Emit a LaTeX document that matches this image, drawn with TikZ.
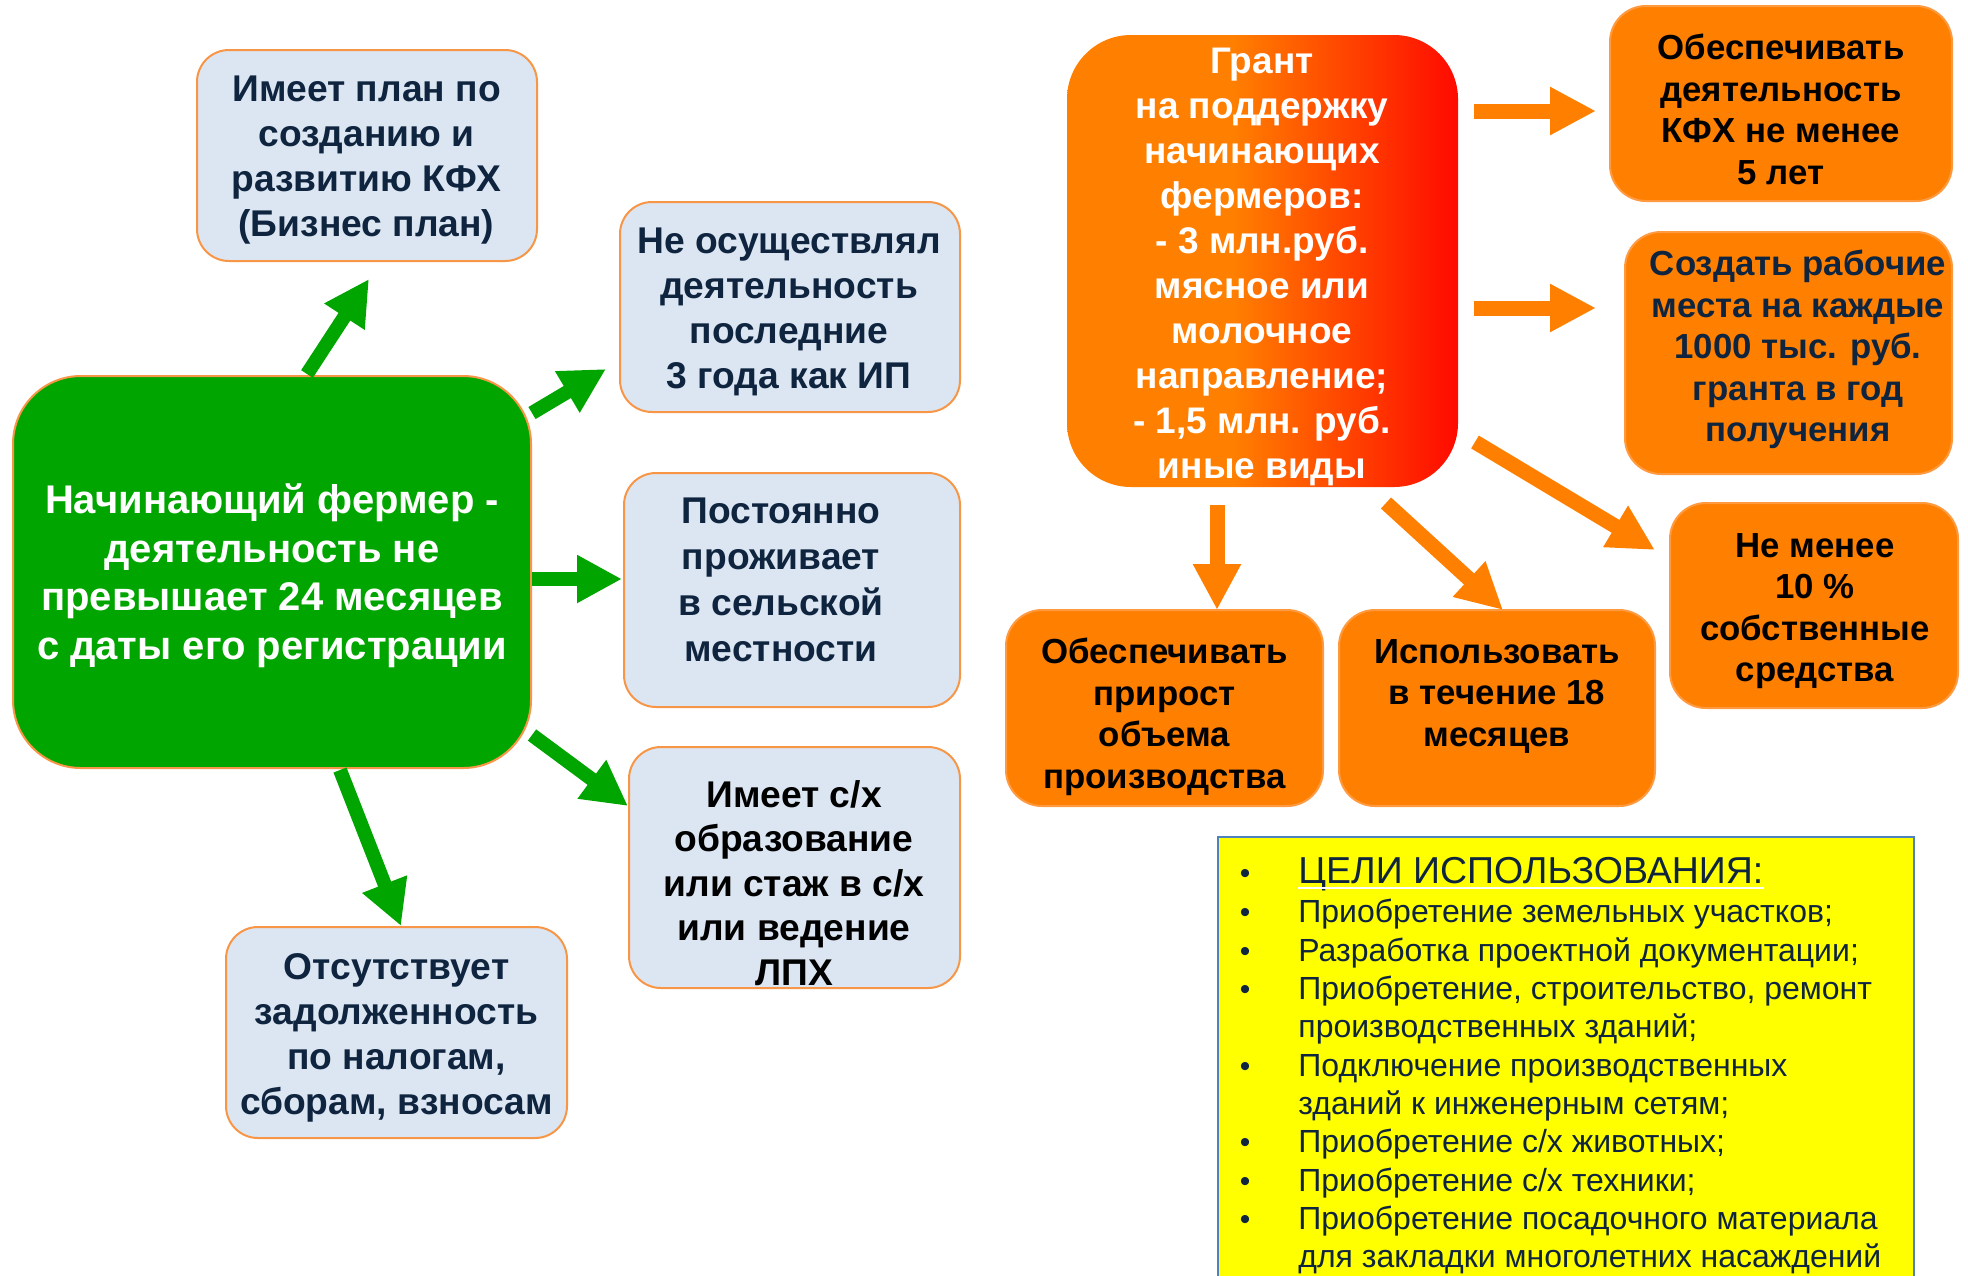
\documentclass[tikz,border=0pt]{standalone}
\usepackage{fontspec}
\setmainfont{Liberation Sans}
\usetikzlibrary{arrows.meta}
\definecolor{lbfill}{HTML}{DCE6F2}
\definecolor{lborder}{HTML}{F79646}
\definecolor{navy}{HTML}{0F243E}
\definecolor{grn}{HTML}{00A500}
\definecolor{orng}{HTML}{FF8000}
\definecolor{oborder}{HTML}{FF9A40}
\definecolor{gred}{HTML}{FF0A00}
\definecolor{ylw}{HTML}{FFFF00}
\definecolor{ylwborder}{HTML}{4F81BD}
\pgfdeclarehorizontalshading{grantsh}{100bp}{color(0bp)=(orng); color(25bp)=(orng); color(46bp)=(orng); color(75bp)=(gred); color(100bp)=(gred)}
\newcommand{\myfs}[2]{\fontsize{#1}{#2}\selectfont}
\newcommand{\blt}{\llap{{\myfs{15pt}{15pt}•}\hspace{24pt}}}
\begin{document}
\begin{tikzpicture}[x=0.5pt,y=-0.5pt,
  lbox/.style={draw=lborder, line width=1pt, fill=lbfill, rounded corners=16pt, inner sep=0pt},
  gbox/.style={draw=lborder, line width=1pt, fill=grn, rounded corners=34pt, inner sep=0pt},
  obox/.style={draw=oborder, line width=1pt, fill=orng, rounded corners=18pt, inner sep=0pt},
  btxt/.style={align=center, font=\bfseries\myfs{18.6pt}{22.5pt}, text=navy, inner sep=0pt},
  otxt/.style={align=center, font=\bfseries\myfs{17.4pt}{20.75pt}, text=black, inner sep=0pt},
  ytxt/.style={anchor=base west, inner sep=0pt, text=navy, font=\myfs{16pt}{16pt}},
  garrow/.style={draw=grn, line width=7pt, -{Triangle[length=22.5pt,width=22.5pt]}},
  oarrow/.style={draw=orng, line width=7.5pt, -{Triangle[length=23pt,width=22.5pt]}}]
\useasboundingbox (0,0) rectangle (1968,1275);
\clip (0,0) rectangle (1968,1275);

% ---------- left part ----------
\node[gbox, minimum width=259pt, minimum height=196pt] (green) at (272,572) {};
\node[align=center, font=\bfseries\myfs{20pt}{24.25pt}, text=white, inner sep=0pt] (tgreen) at (272,576)
  {Начинающий фермер -\\деятельность не\\превышает 24 месяцев\\с даты его регистрации};

\node[lbox, minimum width=170pt, minimum height=105.5pt] (boxA) at (367,155.5) {};
\node[btxt] (tA) at (366.5,160.5) {Имеет план по\\созданию и\\развитию КФХ\\(Бизнес план)};

\node[lbox, minimum width=170pt, minimum height=105pt] (boxB) at (790,307) {};
\node[btxt] (tB) at (789,312) {Не осуществлял\\деятельность\\последние\\3 года как ИП};

\node[lbox, minimum width=168pt, minimum height=117pt] (boxC) at (792,590) {};
\node[btxt, font=\bfseries\myfs{18.6pt}{23pt}] (tC) at (781,580) {Постоянно\\проживает\\в сельской\\местности};

\node[lbox, minimum width=165.5pt, minimum height=120.5pt] (boxD) at (794.5,867.5) {};
\node[btxt, text=black, font=\bfseries\myfs{18.6pt}{22.3pt}] (tD) at (794,883) {Имеет с/х\\образование\\или стаж в с/х\\или ведение\\ЛПХ};

\node[lbox, minimum width=170.5pt, minimum height=105.5pt] (boxE) at (396.5,1032.5) {};
\node[btxt] (tE) at (396.5,1038) {Отсутствует\\задолженность\\по налогам,\\сборам, взносам};

% green arrows
\coordinate (gA1) at (307,374); \coordinate (gA2) at (369,279);
\coordinate (gB1) at (532,413); \coordinate (gB2) at (606,369);
\coordinate (gC1) at (532,579); \coordinate (gC2) at (622,579);
\coordinate (gD1) at (532,735); \coordinate (gD2) at (628,806);
\coordinate (gE1) at (340,770); \coordinate (gE2) at (401,926);
\draw[garrow] (gA1) -- (gA2);
\draw[garrow] (gB1) -- (gB2);
\draw[garrow] (gC1) -- (gC2);
\draw[garrow] (gD1) -- (gD2);
\draw[garrow] (gE1) -- (gE2);

% ---------- right part ----------
\node[shading=grantsh, rounded corners=32pt, minimum width=195.5pt, minimum height=226pt, inner sep=0pt] (grant) at (1262.5,261) {};
\node[align=center, font=\bfseries\myfs{18.5pt}{22.5pt}, text=white, inner sep=0pt] (tgrant) at (1262,267)
  {Грант\\на поддержку\\начинающих\\фермеров:\\- 3 млн.руб.\\мясное или\\молочное\\направление;\\- 1,5 млн. руб.\\иные виды};

\node[obox, minimum width=171pt, minimum height=97.5pt] (o1) at (1781,103.5) {};
\node[otxt] (t1) at (1781,109.5) {Обеспечивать\\деятельность\\КФХ не менее\\5 лет};

\node[obox, minimum width=163.5pt, minimum height=121pt] (o2) at (1788.5,353) {};
\node[otxt, text=navy] (t2) at (1798,349.6) {Создать рабочие\\места на каждые\\1000 тыс. руб.\\гранта в год\\получения};

\node[obox, minimum width=144pt, minimum height=102.5pt] (o3) at (1814,605.5) {};
\node[otxt] (t3) at (1815,611) {Не менее\\10 \%\\собственные\\средства};

\node[obox, minimum width=158.5pt, minimum height=98pt] (o4) at (1164.5,708) {};
\node[otxt] (t4) at (1164.5,717) {Обеспечивать\\прирост\\объема\\производства};

\node[obox, minimum width=158pt, minimum height=98pt] (o5) at (1497,708) {};
\node[otxt] (t5) at (1497,696) {Использовать\\в течение 18\\месяцев};

% orange arrows
\coordinate (oA1) at (1474,111); \coordinate (oA2) at (1596,111);
\coordinate (oB1) at (1474,308); \coordinate (oB2) at (1596,308);
\coordinate (oC1) at (1475,442); \coordinate (oC2) at (1655,550);
\coordinate (oD1) at (1217,505); \coordinate (oD2) at (1217,610);
\coordinate (oE1) at (1386,503); \coordinate (oE2) at (1503,610);
\draw[oarrow] (oA1) -- (oA2);
\draw[oarrow] (oB1) -- (oB2);
\draw[oarrow] (oC1) -- (oC2);
\draw[oarrow] (oD1) -- (oD2);
\draw[oarrow] (oE1) -- (oE2);

% ---------- yellow box ----------
\node[draw=ylwborder, line width=1.2pt, fill=ylw, minimum width=348pt, minimum height=230pt, inner sep=0pt, anchor=north west] (goals) at (1217,836) {};
\node[ytxt, font=\myfs{18.75pt}{18.75pt}] (g0) at (1298,883) {\blt ЦЕЛИ ИСПОЛЬЗОВАНИЯ:};
\draw[white, line width=1.2pt] ([yshift=-2.5pt]g0.base west) -- ([yshift=-2.5pt]g0.base east);
\node[ytxt] (g1) at (1298,922.7) {\blt Приобретение земельных участков;};
\node[ytxt] (g2) at (1298,961) {\blt Разработка проектной документации;};
\node[ytxt] (g3) at (1298,999.4) {\blt Приобретение, строительство, ремонт};
\node[ytxt] (g4) at (1298,1037.8) {производственных зданий;};
\node[ytxt] (g5) at (1298,1076.1) {\blt Подключение производственных};
\node[ytxt] (g6) at (1298,1114.5) {зданий к инженерным сетям;};
\node[ytxt] (g7) at (1298,1152.8) {\blt Приобретение с/х животных;};
\node[ytxt] (g8) at (1298,1191.2) {\blt Приобретение с/х техники;};
\node[ytxt] (g9) at (1298,1229.5) {\blt Приобретение посадочного материала};
\node[ytxt] (g10) at (1298,1267.9) {для закладки многолетних насаждений};
\end{tikzpicture}
\end{document}
